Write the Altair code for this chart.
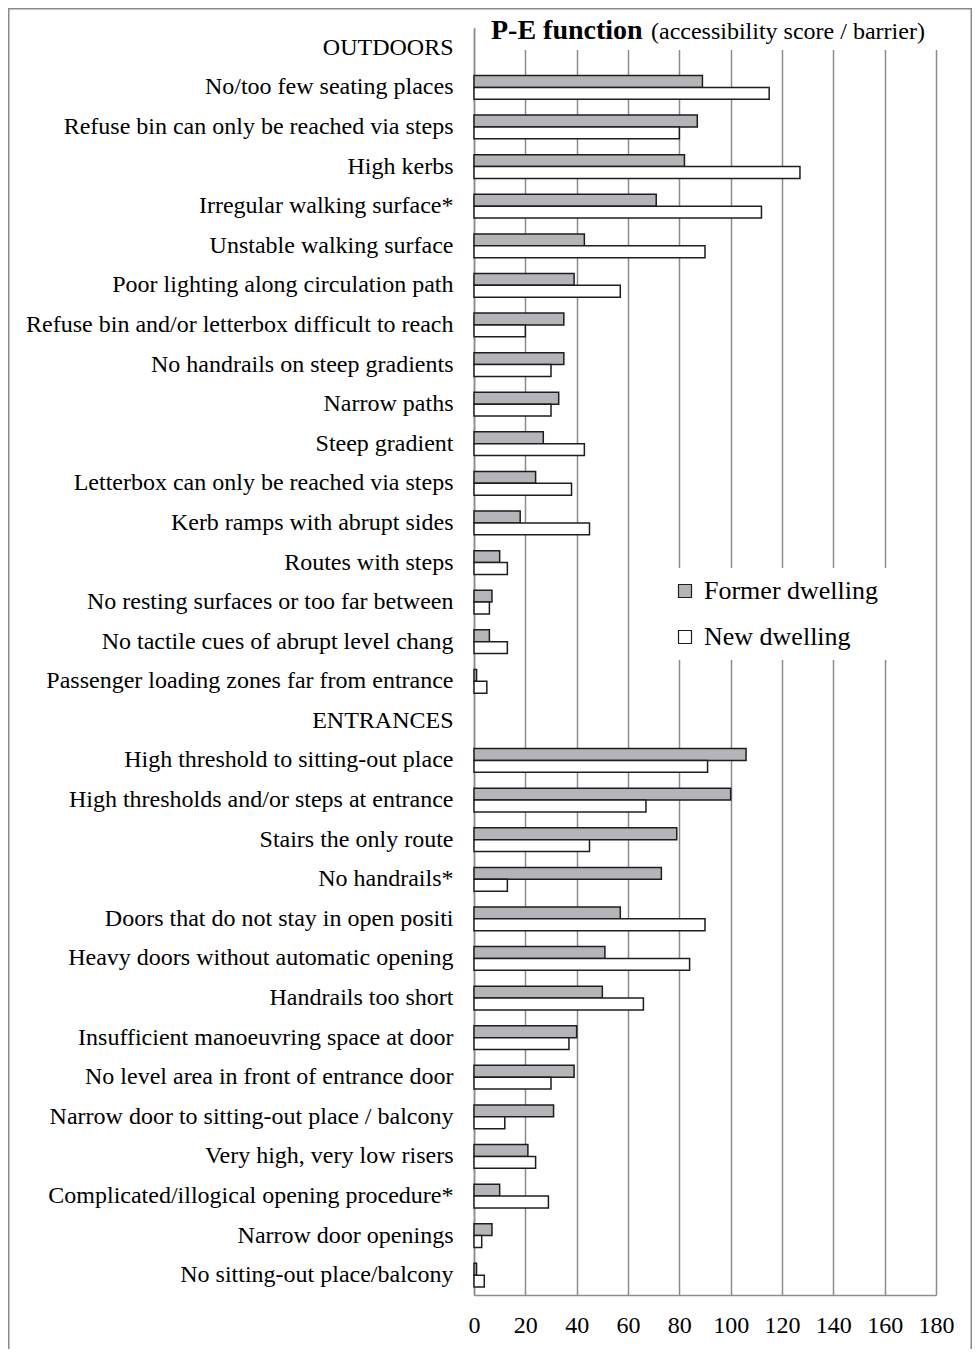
import altair as alt
import pandas as pd

categories = [
    "OUTDOORS",
    "No/too few seating places",
    "Refuse bin can only be reached via steps",
    "High kerbs",
    "Irregular walking surface*",
    "Unstable walking surface",
    "Poor lighting along circulation path",
    "Refuse bin and/or letterbox difficult to reach",
    "No handrails on steep gradients",
    "Narrow paths",
    "Steep gradient",
    "Letterbox can only be reached via steps",
    "Kerb ramps with abrupt sides",
    "Routes with steps",
    "No resting surfaces or too far between",
    "No tactile cues of abrupt level chang",
    "Passenger loading zones far from entrance",
    "ENTRANCES",
    "High threshold to sitting-out place",
    "High thresholds and/or steps at entrance",
    "Stairs the only route",
    "No handrails*",
    "Doors that do not stay in open positi",
    "Heavy doors without automatic opening",
    "Handrails too short",
    "Insufficient manoeuvring space at door",
    "No level area in front of entrance door",
    "Narrow door to sitting-out place / balcony",
    "Very high, very low risers",
    "Complicated/illogical opening procedure*",
    "Narrow door openings",
    "No sitting-out place/balcony",
]
former = [None, 89, 87, 82, 71, 43, 39, 35, 35, 33, 27, 24, 18, 10, 7, 6, 1,
          None, 106, 100, 79, 73, 57, 51, 50, 40, 39, 31, 21, 10, 7, 1]
new = [None, 115, 80, 127, 112, 90, 57, 20, 30, 30, 43, 38, 45, 13, 6, 13, 5,
       None, 91, 67, 45, 13, 90, 84, 66, 37, 30, 12, 24, 29, 3, 4]
groups = ["Former dwelling", "New dwelling"]
ticks = [0, 20, 40, 60, 80, 100, 120, 140, 160, 180]

rows = []
for c, f, n in zip(categories, former, new):
    if f is not None:
        rows.append({"category": c, "group": groups[0], "value": f})
    if n is not None:
        rows.append({"category": c, "group": groups[1], "value": n})
df = pd.DataFrame(rows)

FONT = "Liberation Serif"
GRID = "#8c8c8c"
W, H = 462, 1267
PL, PT, PR, PB = 466, 20, 36, 54

bars = alt.Chart(df).mark_bar(stroke="#1e1e1e", strokeWidth=1.5).encode(
    x=alt.X("value:Q",
            scale=alt.Scale(domain=[0, 180], nice=False, zero=True),
            axis=alt.Axis(values=ticks, title=None, grid=True, gridColor=GRID,
                          gridWidth=1.5, ticks=False, labelFontSize=24,
                          labelPadding=18, domainColor=GRID, domainWidth=1.5,
                          labelColor="black", labelFont=FONT, labelFlush=False)),
    y=alt.Y("category:N",
            scale=alt.Scale(domain=categories, paddingInner=0.4, paddingOuter=0.2),
            axis=alt.Axis(title=None, ticks=False, labelFontSize=24, labelPadding=21,
                          labelLimit=0, grid=False, domainColor=GRID, domainWidth=1.5,
                          labelColor="black", labelFont=FONT)),
    yOffset=alt.YOffset("group:N",
                        scale=alt.Scale(domain=groups, paddingInner=0, paddingOuter=0)),
    color=alt.Color("group:N",
                    scale=alt.Scale(domain=groups, range=["#b4b5b8", "#ffffff"]),
                    legend=alt.Legend(title=None, orient="none", legendX=188, legendY=540,
                                      fillColor="white", padding=10, labelFontSize=26,
                                      labelFont=FONT, labelColor="black", labelLimit=0,
                                      symbolType="square", symbolSize=169,
                                      symbolStrokeColor="#1e1e1e", symbolStrokeWidth=1.2,
                                      rowPadding=20, labelOffset=6)),
)

one = pd.DataFrame({"k": [0]})

frame = alt.Chart(one).mark_rect(fillOpacity=0, stroke="#8a8a8a", strokeWidth=1.5).encode(
    x=alt.value(-PL + 0.75), x2=alt.value(W + PR - 0.75),
    y=alt.value(-PT + 0.75), y2=alt.value(H + PB + 20))

title_bg = alt.Chart(one).mark_rect(fill="white").encode(
    x=alt.value(2), x2=alt.value(W + 2), y=alt.value(0), y2=alt.value(22))

title_bold = alt.Chart(one).mark_text(
    text="P-E function", font=FONT, fontSize=28, fontWeight="bold",
    align="left", baseline="alphabetic", color="black").encode(
    x=alt.value(17), y=alt.value(11))

title_reg = alt.Chart(one).mark_text(
    text="(accessibility score / barrier)", font=FONT, fontSize=24,
    align="left", baseline="alphabetic", color="black").encode(
    x=alt.value(177), y=alt.value(11))

chart = alt.layer(frame, bars, title_bg, title_bold, title_reg).properties(
    width=W, height=H,
    autosize=alt.AutoSizeParams(type="none"),
    padding={"left": PL, "top": PT, "right": PR, "bottom": PB},
).configure_view(strokeWidth=0).configure(font=FONT, background="white")

chart.save("out.html", embed_options={"renderer": "svg", "actions": False})
